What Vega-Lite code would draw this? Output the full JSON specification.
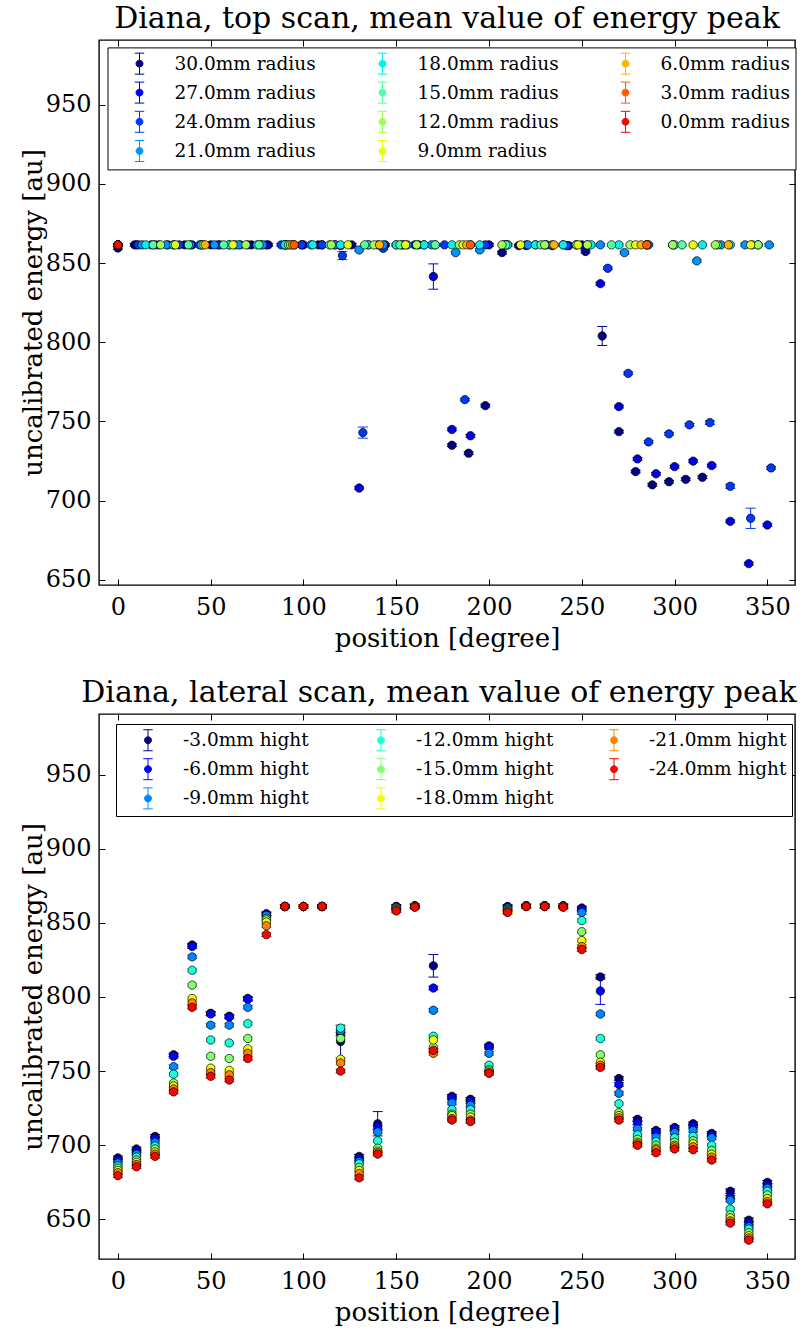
{
  "$schema": "https://vega.github.io/schema/vega-lite/v6.json",
  "background": "white",
  "padding": {"left": 19, "top": 2, "right": 6, "bottom": 4},
  "spacing": 24,
  "config": {
    "font": "DejaVu Serif",
    "view": {"stroke": "black", "strokeWidth": 1.4},
    "axis": {
      "labelFont": "DejaVu Serif", "titleFont": "DejaVu Serif",
      "labelColor": "black", "titleColor": "black",
      "labelFontSize": 24, "titleFontSize": 26, "titleFontWeight": "normal",
      "grid": false, "domain": false, "tickColor": "black", "tickSize": -6, "tickWidth": 1
    },
    "title": {"font": "DejaVu Serif", "fontSize": 30, "fontWeight": "normal", "color": "black", "offset": 6},
    "legend": {
      "title": null, "orient": "none", "columns": 3, "gridAlign": "all",
      "labelFont": "DejaVu Serif", "labelFontSize": 18.5, "labelColor": "black", "labelLimit": 300,
      "labelOffset": 24, "columnPadding": 39, "rowPadding": 3.2, "padding": 5, "symbolSize": 441,
      "symbolOffset": 16, "symbolStrokeWidth": 1,
      "symbolType": "M0,-1L0,-0.33M0,0.33L0,1M-0.45,-1L0.45,-1M-0.45,1L0.45,1M0.33,0A0.33,0.33,0,1,1,-0.33,0A0.33,0.33,0,1,1,0.33,0Z",
      "strokeColor": "black", "fillColor": "white"
    }
  },
  "datasets": {
    "topScan": [
      {"s":30,"pos":0,"E":859.5,"err":0.8},{"s":30,"pos":9,"E":861.5,"err":0.8},{"s":30,"pos":18,"E":861.5,"err":0.8},{"s":30,"pos":27,"E":861.5,"err":0.8},{"s":30,"pos":36,"E":861.5,"err":0.8},{"s":30,"pos":45,"E":861.5,"err":0.8},{"s":30,"pos":54,"E":861.5,"err":0.8},{"s":30,"pos":63,"E":861.5,"err":0.8},{"s":30,"pos":72,"E":861.5,"err":0.8},{"s":30,"pos":81,"E":861.5,"err":0.8},{"s":30,"pos":90,"E":861.5,"err":0.8},{"s":30,"pos":99,"E":861.5,"err":0.8},{"s":30,"pos":108,"E":861.5,"err":0.8},{"s":30,"pos":117,"E":861.5,"err":0.8},{"s":30,"pos":126,"E":861.5,"err":0.8},{"s":30,"pos":135,"E":861.5,"err":0.8},{"s":30,"pos":144,"E":861.5,"err":0.8},{"s":30,"pos":153,"E":861.5,"err":0.8},{"s":30,"pos":162,"E":861.5,"err":0.8},{"s":30,"pos":171,"E":861.5,"err":0.8},{"s":30,"pos":180,"E":735,"err":0.8},{"s":30,"pos":189,"E":730,"err":0.8},{"s":30,"pos":198,"E":760,"err":0.8},{"s":30,"pos":207,"E":856.6,"err":0.8},{"s":30,"pos":216,"E":861,"err":0.8},{"s":30,"pos":225,"E":861.5,"err":0.8},{"s":30,"pos":234,"E":861,"err":0.8},{"s":30,"pos":243,"E":861,"err":0.8},{"s":30,"pos":252,"E":857.3,"err":0.8},{"s":30,"pos":261,"E":804,"err":6},{"s":30,"pos":270,"E":743.6,"err":0.8},{"s":30,"pos":279,"E":718.4,"err":0.8},{"s":30,"pos":288,"E":710,"err":0.8},{"s":30,"pos":297,"E":712,"err":0.8},{"s":30,"pos":306,"E":713.5,"err":0.8},{"s":30,"pos":315,"E":714.8,"err":0.8},
      {"s":27,"pos":0,"E":861.5,"err":0.8},{"s":27,"pos":10,"E":861.5,"err":0.8},{"s":27,"pos":20,"E":861.5,"err":0.8},{"s":27,"pos":30,"E":861.5,"err":0.8},{"s":27,"pos":40,"E":861.5,"err":0.8},{"s":27,"pos":50,"E":861.5,"err":0.8},{"s":27,"pos":60,"E":861.5,"err":0.8},{"s":27,"pos":70,"E":861.5,"err":0.8},{"s":27,"pos":80,"E":861.5,"err":0.8},{"s":27,"pos":90,"E":861.5,"err":0.8},{"s":27,"pos":100,"E":861.5,"err":0.8},{"s":27,"pos":110,"E":861.5,"err":0.8},{"s":27,"pos":120,"E":861,"err":0.8},{"s":27,"pos":130,"E":708,"err":0.8},{"s":27,"pos":140,"E":861.5,"err":0.8},{"s":27,"pos":150,"E":861.5,"err":0.8},{"s":27,"pos":160,"E":861.5,"err":0.8},{"s":27,"pos":170,"E":841.5,"err":8},{"s":27,"pos":180,"E":745,"err":0.8},{"s":27,"pos":190,"E":741,"err":0.8},{"s":27,"pos":200,"E":861.5,"err":0.8},{"s":27,"pos":210,"E":861.5,"err":0.8},{"s":27,"pos":220,"E":861,"err":0.8},{"s":27,"pos":230,"E":861.5,"err":0.8},{"s":27,"pos":240,"E":861.5,"err":0.8},{"s":27,"pos":250,"E":861.5,"err":0.8},{"s":27,"pos":260,"E":837,"err":0.8},{"s":27,"pos":270,"E":759.4,"err":0.8},{"s":27,"pos":280,"E":726.4,"err":0.8},{"s":27,"pos":290,"E":717,"err":0.8},{"s":27,"pos":300,"E":721.5,"err":0.8},{"s":27,"pos":310,"E":725,"err":0.8},{"s":27,"pos":320,"E":722.2,"err":0.8},{"s":27,"pos":330,"E":687,"err":0.8},{"s":27,"pos":340,"E":660.3,"err":0.8},{"s":27,"pos":350,"E":684.7,"err":0.8},
      {"s":24,"pos":0,"E":861.5,"err":0.8},{"s":24,"pos":11,"E":861.5,"err":0.8},{"s":24,"pos":22,"E":861.5,"err":0.8},{"s":24,"pos":33,"E":861.5,"err":0.8},{"s":24,"pos":44,"E":861.5,"err":0.8},{"s":24,"pos":55,"E":861.5,"err":0.8},{"s":24,"pos":66,"E":861.5,"err":0.8},{"s":24,"pos":77,"E":861.5,"err":0.8},{"s":24,"pos":88,"E":861.5,"err":0.8},{"s":24,"pos":99,"E":861.5,"err":0.8},{"s":24,"pos":110,"E":861.5,"err":0.8},{"s":24,"pos":121,"E":854.7,"err":2.5},{"s":24,"pos":132,"E":743,"err":3.5},{"s":24,"pos":143,"E":859.3,"err":0.8},{"s":24,"pos":154,"E":861.5,"err":0.8},{"s":24,"pos":165,"E":861.5,"err":0.8},{"s":24,"pos":176,"E":861.5,"err":0.8},{"s":24,"pos":187,"E":763.8,"err":0.8},{"s":24,"pos":198,"E":861.5,"err":0.8},{"s":24,"pos":209,"E":861.5,"err":0.8},{"s":24,"pos":220,"E":861.5,"err":0.8},{"s":24,"pos":231,"E":861.5,"err":0.8},{"s":24,"pos":242,"E":861,"err":0.8},{"s":24,"pos":253,"E":861.5,"err":0.8},{"s":24,"pos":264,"E":846.7,"err":0.8},{"s":24,"pos":275,"E":780.4,"err":0.8},{"s":24,"pos":286,"E":737.1,"err":0.8},{"s":24,"pos":297,"E":742.2,"err":0.8},{"s":24,"pos":308,"E":747.9,"err":0.8},{"s":24,"pos":319,"E":749.3,"err":1.2},{"s":24,"pos":330,"E":709.1,"err":1.3},{"s":24,"pos":341,"E":688.9,"err":6.4},{"s":24,"pos":352,"E":720.7,"err":0.8},
      {"s":21,"pos":0,"E":861.5,"err":0.8},{"s":21,"pos":13,"E":861.5,"err":0.8},{"s":21,"pos":26,"E":861.5,"err":0.8},{"s":21,"pos":39,"E":861.5,"err":0.8},{"s":21,"pos":52,"E":861.5,"err":0.8},{"s":21,"pos":65,"E":861.5,"err":0.8},{"s":21,"pos":78,"E":861.5,"err":0.8},{"s":21,"pos":91,"E":861.5,"err":0.8},{"s":21,"pos":104,"E":861.5,"err":0.8},{"s":21,"pos":117,"E":861.5,"err":0.8},{"s":21,"pos":130,"E":858.3,"err":0.8},{"s":21,"pos":143,"E":861.5,"err":0.8},{"s":21,"pos":156,"E":861.5,"err":0.8},{"s":21,"pos":169,"E":861.5,"err":0.8},{"s":21,"pos":182,"E":856.6,"err":0.8},{"s":21,"pos":195,"E":858.3,"err":0.8},{"s":21,"pos":208,"E":861.5,"err":0.8},{"s":21,"pos":221,"E":861.5,"err":0.8},{"s":21,"pos":234,"E":861.5,"err":0.8},{"s":21,"pos":247,"E":861.5,"err":0.8},{"s":21,"pos":260,"E":861.5,"err":0.8},{"s":21,"pos":273,"E":856.6,"err":0.8},{"s":21,"pos":286,"E":861.5,"err":0.8},{"s":21,"pos":299,"E":861.5,"err":0.8},{"s":21,"pos":312,"E":851.4,"err":0.8},{"s":21,"pos":325,"E":861.5,"err":0.8},{"s":21,"pos":338,"E":861.5,"err":0.8},{"s":21,"pos":351,"E":861.5,"err":0.8},
      {"s":18,"pos":0,"E":861.5,"err":0.8},{"s":18,"pos":15,"E":861.5,"err":0.8},{"s":18,"pos":30,"E":861.5,"err":0.8},{"s":18,"pos":45,"E":861.5,"err":0.8},{"s":18,"pos":60,"E":861.5,"err":0.8},{"s":18,"pos":75,"E":861.5,"err":0.8},{"s":18,"pos":90,"E":861.5,"err":0.8},{"s":18,"pos":105,"E":861.5,"err":0.8},{"s":18,"pos":120,"E":861.5,"err":0.8},{"s":18,"pos":135,"E":861.5,"err":0.8},{"s":18,"pos":150,"E":861.5,"err":0.8},{"s":18,"pos":165,"E":861.5,"err":0.8},{"s":18,"pos":180,"E":861.5,"err":0.8},{"s":18,"pos":195,"E":861.5,"err":0.8},{"s":18,"pos":210,"E":861.5,"err":0.8},{"s":18,"pos":225,"E":861.5,"err":0.8},{"s":18,"pos":240,"E":861.5,"err":0.8},{"s":18,"pos":255,"E":861.5,"err":0.8},{"s":18,"pos":270,"E":861.5,"err":0.8},{"s":18,"pos":285,"E":861.5,"err":0.8},{"s":18,"pos":300,"E":861.5,"err":0.8},{"s":18,"pos":315,"E":861.5,"err":0.8},{"s":18,"pos":330,"E":861.5,"err":0.8},{"s":18,"pos":345,"E":861.5,"err":0.8},
      {"s":15,"pos":0,"E":861.5,"err":0.8},{"s":15,"pos":19,"E":861.5,"err":0.8},{"s":15,"pos":38,"E":861.5,"err":0.8},{"s":15,"pos":57,"E":861.5,"err":0.8},{"s":15,"pos":76,"E":861.5,"err":0.8},{"s":15,"pos":95,"E":861.5,"err":0.8},{"s":15,"pos":114,"E":861.5,"err":0.8},{"s":15,"pos":133,"E":861.5,"err":0.8},{"s":15,"pos":152,"E":861.5,"err":0.8},{"s":15,"pos":171,"E":861.5,"err":0.8},{"s":15,"pos":190,"E":861.5,"err":0.8},{"s":15,"pos":209,"E":861.5,"err":0.8},{"s":15,"pos":228,"E":861.5,"err":0.8},{"s":15,"pos":247,"E":861.5,"err":0.8},{"s":15,"pos":266,"E":861.5,"err":0.8},{"s":15,"pos":285,"E":861.5,"err":0.8},{"s":15,"pos":304,"E":861.5,"err":0.8},{"s":15,"pos":323,"E":861.5,"err":0.8},{"s":15,"pos":342,"E":861.5,"err":0.8},
      {"s":12,"pos":0,"E":861.5,"err":0.8},{"s":12,"pos":23,"E":861.5,"err":0.8},{"s":12,"pos":46,"E":861.5,"err":0.8},{"s":12,"pos":69,"E":861.5,"err":0.8},{"s":12,"pos":92,"E":861.5,"err":0.8},{"s":12,"pos":115,"E":861.5,"err":0.8},{"s":12,"pos":138,"E":861.5,"err":0.8},{"s":12,"pos":161,"E":861.5,"err":0.8},{"s":12,"pos":184,"E":861.5,"err":0.8},{"s":12,"pos":207,"E":861.5,"err":0.8},{"s":12,"pos":230,"E":861.5,"err":0.8},{"s":12,"pos":253,"E":861.5,"err":0.8},{"s":12,"pos":276,"E":861.5,"err":0.8},{"s":12,"pos":299,"E":861.5,"err":0.8},{"s":12,"pos":322,"E":861.5,"err":0.8},{"s":12,"pos":345,"E":861.5,"err":0.8},
      {"s":9,"pos":0,"E":861.5,"err":0.8},{"s":9,"pos":31,"E":861.5,"err":0.8},{"s":9,"pos":62,"E":861.5,"err":0.8},{"s":9,"pos":93,"E":861.5,"err":0.8},{"s":9,"pos":124,"E":861.5,"err":0.8},{"s":9,"pos":155,"E":861.5,"err":0.8},{"s":9,"pos":186,"E":861.5,"err":0.8},{"s":9,"pos":217,"E":861.5,"err":0.8},{"s":9,"pos":248,"E":861.5,"err":0.8},{"s":9,"pos":279,"E":861.5,"err":0.8},{"s":9,"pos":310,"E":861.5,"err":0.8},{"s":9,"pos":341,"E":861.5,"err":0.8},
      {"s":6,"pos":0,"E":861.5,"err":0.8},{"s":6,"pos":47,"E":861.5,"err":0.8},{"s":6,"pos":94,"E":861.5,"err":0.8},{"s":6,"pos":141,"E":861.5,"err":0.8},{"s":6,"pos":188,"E":861.5,"err":0.8},{"s":6,"pos":235,"E":861.5,"err":0.8},{"s":6,"pos":282,"E":861.5,"err":0.8},{"s":6,"pos":329,"E":861.5,"err":0.8},
      {"s":3,"pos":0,"E":861.5,"err":0.8},{"s":3,"pos":95,"E":861.5,"err":0.8},{"s":3,"pos":190,"E":861.5,"err":0.8},{"s":3,"pos":285,"E":861.5,"err":0.8},
      {"s":0,"pos":0,"E":861.5,"err":0.8}
    ],
    "lateralScan": [
      {"s":-3,"pos":0,"E":691.5,"err":1.2},{"s":-3,"pos":10,"E":697.5,"err":1.2},{"s":-3,"pos":20,"E":706,"err":1.2},{"s":-3,"pos":30,"E":761,"err":1.2},{"s":-3,"pos":40,"E":835,"err":1.2},{"s":-3,"pos":50,"E":789,"err":1.2},{"s":-3,"pos":60,"E":787,"err":1.2},{"s":-3,"pos":70,"E":799,"err":1.2},{"s":-3,"pos":80,"E":856,"err":1.2},{"s":-3,"pos":90,"E":861,"err":1.2},{"s":-3,"pos":100,"E":861,"err":1.2},{"s":-3,"pos":110,"E":861,"err":1.2},{"s":-3,"pos":120,"E":770,"err":11},{"s":-3,"pos":130,"E":692.5,"err":1.2},{"s":-3,"pos":140,"E":714.5,"err":8.2},{"s":-3,"pos":150,"E":861,"err":1.2},{"s":-3,"pos":160,"E":861.5,"err":1.2},{"s":-3,"pos":170,"E":821,"err":7.6},{"s":-3,"pos":180,"E":733,"err":1.2},{"s":-3,"pos":190,"E":731,"err":1.2},{"s":-3,"pos":200,"E":767,"err":1.2},{"s":-3,"pos":210,"E":861,"err":1.2},{"s":-3,"pos":220,"E":861.5,"err":1.2},{"s":-3,"pos":230,"E":861.5,"err":1.2},{"s":-3,"pos":240,"E":861.5,"err":1.2},{"s":-3,"pos":250,"E":860,"err":1.2},{"s":-3,"pos":260,"E":813.5,"err":1.5},{"s":-3,"pos":270,"E":745,"err":1.2},{"s":-3,"pos":280,"E":717.5,"err":1.2},{"s":-3,"pos":290,"E":710,"err":1.2},{"s":-3,"pos":300,"E":712,"err":1.2},{"s":-3,"pos":310,"E":714.5,"err":1.2},{"s":-3,"pos":320,"E":708,"err":1.2},{"s":-3,"pos":330,"E":669,"err":1.5},{"s":-3,"pos":340,"E":649.5,"err":1.5},{"s":-3,"pos":350,"E":675,"err":1.2},
      {"s":-6,"pos":0,"E":690,"err":1.2},{"s":-6,"pos":10,"E":696,"err":1.2},{"s":-6,"pos":20,"E":704.5,"err":1.2},{"s":-6,"pos":30,"E":760,"err":1.2},{"s":-6,"pos":40,"E":834,"err":1.2},{"s":-6,"pos":50,"E":788.5,"err":1.2},{"s":-6,"pos":60,"E":786.5,"err":1.2},{"s":-6,"pos":70,"E":798.5,"err":1.2},{"s":-6,"pos":80,"E":856,"err":1.2},{"s":-6,"pos":90,"E":861,"err":1.2},{"s":-6,"pos":100,"E":861,"err":1.2},{"s":-6,"pos":110,"E":861,"err":1.2},{"s":-6,"pos":120,"E":775,"err":1.2},{"s":-6,"pos":130,"E":691,"err":1.2},{"s":-6,"pos":140,"E":712,"err":1.2},{"s":-6,"pos":150,"E":861,"err":1.2},{"s":-6,"pos":160,"E":861.5,"err":1.2},{"s":-6,"pos":170,"E":806,"err":1.2},{"s":-6,"pos":180,"E":732,"err":1.2},{"s":-6,"pos":190,"E":729.5,"err":1.2},{"s":-6,"pos":200,"E":766,"err":1.2},{"s":-6,"pos":210,"E":860.5,"err":1.2},{"s":-6,"pos":220,"E":861.5,"err":1.2},{"s":-6,"pos":230,"E":861.5,"err":1.2},{"s":-6,"pos":240,"E":861.5,"err":1.2},{"s":-6,"pos":250,"E":859,"err":1.2},{"s":-6,"pos":260,"E":804,"err":9},{"s":-6,"pos":270,"E":741,"err":1.2},{"s":-6,"pos":280,"E":715,"err":1.2},{"s":-6,"pos":290,"E":709,"err":1.2},{"s":-6,"pos":300,"E":711,"err":1.2},{"s":-6,"pos":310,"E":713,"err":1.2},{"s":-6,"pos":320,"E":707,"err":1.2},{"s":-6,"pos":330,"E":665,"err":1.2},{"s":-6,"pos":340,"E":647.5,"err":1.2},{"s":-6,"pos":350,"E":673,"err":1.2},
      {"s":-9,"pos":0,"E":688,"err":1.2},{"s":-9,"pos":10,"E":694,"err":1.2},{"s":-9,"pos":20,"E":702,"err":1.2},{"s":-9,"pos":30,"E":753,"err":1.2},{"s":-9,"pos":40,"E":827,"err":1.2},{"s":-9,"pos":50,"E":781,"err":1.2},{"s":-9,"pos":60,"E":781,"err":1.2},{"s":-9,"pos":70,"E":793,"err":1.2},{"s":-9,"pos":80,"E":855,"err":1.2},{"s":-9,"pos":90,"E":861,"err":1.2},{"s":-9,"pos":100,"E":861,"err":1.2},{"s":-9,"pos":110,"E":861,"err":1.2},{"s":-9,"pos":120,"E":777,"err":1.2},{"s":-9,"pos":130,"E":689,"err":1.2},{"s":-9,"pos":140,"E":709,"err":1.2},{"s":-9,"pos":150,"E":860.5,"err":1.2},{"s":-9,"pos":160,"E":861,"err":1.2},{"s":-9,"pos":170,"E":791,"err":1.2},{"s":-9,"pos":180,"E":728.5,"err":1.2},{"s":-9,"pos":190,"E":727,"err":1.2},{"s":-9,"pos":200,"E":762,"err":1.2},{"s":-9,"pos":210,"E":860,"err":1.2},{"s":-9,"pos":220,"E":861.5,"err":1.2},{"s":-9,"pos":230,"E":861.5,"err":1.2},{"s":-9,"pos":240,"E":861,"err":1.2},{"s":-9,"pos":250,"E":857,"err":1.2},{"s":-9,"pos":260,"E":788.5,"err":1.2},{"s":-9,"pos":270,"E":735,"err":1.2},{"s":-9,"pos":280,"E":711,"err":1.2},{"s":-9,"pos":290,"E":705.5,"err":1.2},{"s":-9,"pos":300,"E":708.5,"err":1.2},{"s":-9,"pos":310,"E":710,"err":1.2},{"s":-9,"pos":320,"E":705,"err":1.2},{"s":-9,"pos":330,"E":663,"err":1.2},{"s":-9,"pos":340,"E":645,"err":1.2},{"s":-9,"pos":350,"E":671,"err":1.2},
      {"s":-12,"pos":0,"E":686,"err":1.2},{"s":-12,"pos":10,"E":692,"err":1.2},{"s":-12,"pos":20,"E":699.5,"err":1.2},{"s":-12,"pos":30,"E":748,"err":1.2},{"s":-12,"pos":40,"E":818,"err":1.2},{"s":-12,"pos":50,"E":771,"err":1.2},{"s":-12,"pos":60,"E":769,"err":1.2},{"s":-12,"pos":70,"E":782,"err":1.2},{"s":-12,"pos":80,"E":853,"err":1.2},{"s":-12,"pos":90,"E":861,"err":1.2},{"s":-12,"pos":100,"E":861,"err":1.2},{"s":-12,"pos":110,"E":861,"err":1.2},{"s":-12,"pos":120,"E":779,"err":1.2},{"s":-12,"pos":130,"E":687.5,"err":1.2},{"s":-12,"pos":140,"E":703,"err":1.2},{"s":-12,"pos":150,"E":860,"err":1.2},{"s":-12,"pos":160,"E":861,"err":1.2},{"s":-12,"pos":170,"E":773.5,"err":1.2},{"s":-12,"pos":180,"E":724,"err":1.2},{"s":-12,"pos":190,"E":724,"err":1.2},{"s":-12,"pos":200,"E":754,"err":1.2},{"s":-12,"pos":210,"E":859,"err":1.2},{"s":-12,"pos":220,"E":861.5,"err":1.2},{"s":-12,"pos":230,"E":861.5,"err":1.2},{"s":-12,"pos":240,"E":861,"err":1.2},{"s":-12,"pos":250,"E":851.5,"err":1.2},{"s":-12,"pos":260,"E":772,"err":1.2},{"s":-12,"pos":270,"E":728,"err":1.2},{"s":-12,"pos":280,"E":707,"err":1.2},{"s":-12,"pos":290,"E":702.5,"err":1.2},{"s":-12,"pos":300,"E":705,"err":1.2},{"s":-12,"pos":310,"E":706,"err":1.2},{"s":-12,"pos":320,"E":700,"err":1.2},{"s":-12,"pos":330,"E":657,"err":1.2},{"s":-12,"pos":340,"E":643.5,"err":1.2},{"s":-12,"pos":350,"E":669,"err":1.2},
      {"s":-15,"pos":0,"E":684.5,"err":1.2},{"s":-15,"pos":10,"E":690,"err":1.2},{"s":-15,"pos":20,"E":697.5,"err":1.2},{"s":-15,"pos":30,"E":742,"err":1.2},{"s":-15,"pos":40,"E":808,"err":1.2},{"s":-15,"pos":50,"E":760,"err":1.2},{"s":-15,"pos":60,"E":758.5,"err":1.2},{"s":-15,"pos":70,"E":772,"err":1.2},{"s":-15,"pos":80,"E":852,"err":1.2},{"s":-15,"pos":90,"E":861,"err":1.2},{"s":-15,"pos":100,"E":861,"err":1.2},{"s":-15,"pos":110,"E":861,"err":1.2},{"s":-15,"pos":120,"E":772,"err":1.2},{"s":-15,"pos":130,"E":685,"err":1.2},{"s":-15,"pos":140,"E":698,"err":1.2},{"s":-15,"pos":150,"E":859.5,"err":1.2},{"s":-15,"pos":160,"E":861,"err":1.2},{"s":-15,"pos":170,"E":766,"err":1.2},{"s":-15,"pos":180,"E":721,"err":1.2},{"s":-15,"pos":190,"E":721,"err":1.2},{"s":-15,"pos":200,"E":751,"err":1.2},{"s":-15,"pos":210,"E":858.5,"err":1.2},{"s":-15,"pos":220,"E":861.5,"err":1.2},{"s":-15,"pos":230,"E":861,"err":1.2},{"s":-15,"pos":240,"E":861,"err":1.2},{"s":-15,"pos":250,"E":844,"err":1.2},{"s":-15,"pos":260,"E":761,"err":1.2},{"s":-15,"pos":270,"E":722,"err":1.2},{"s":-15,"pos":280,"E":704,"err":1.2},{"s":-15,"pos":290,"E":700,"err":1.2},{"s":-15,"pos":300,"E":702,"err":1.2},{"s":-15,"pos":310,"E":703,"err":1.2},{"s":-15,"pos":320,"E":696.5,"err":1.2},{"s":-15,"pos":330,"E":653,"err":1.2},{"s":-15,"pos":340,"E":641,"err":1.2},{"s":-15,"pos":350,"E":666.5,"err":1.2},
      {"s":-18,"pos":0,"E":683,"err":1.2},{"s":-18,"pos":10,"E":688.5,"err":1.2},{"s":-18,"pos":20,"E":695.5,"err":1.2},{"s":-18,"pos":30,"E":740,"err":1.2},{"s":-18,"pos":40,"E":799,"err":1.2},{"s":-18,"pos":50,"E":752,"err":1.2},{"s":-18,"pos":60,"E":750.5,"err":1.2},{"s":-18,"pos":70,"E":765,"err":1.2},{"s":-18,"pos":80,"E":850.5,"err":1.2},{"s":-18,"pos":90,"E":861,"err":1.2},{"s":-18,"pos":100,"E":861,"err":1.2},{"s":-18,"pos":110,"E":861,"err":1.2},{"s":-18,"pos":120,"E":758,"err":1.2},{"s":-18,"pos":130,"E":683,"err":1.2},{"s":-18,"pos":140,"E":696,"err":1.2},{"s":-18,"pos":150,"E":859,"err":1.2},{"s":-18,"pos":160,"E":861,"err":1.2},{"s":-18,"pos":170,"E":771,"err":1.2},{"s":-18,"pos":180,"E":720,"err":1.2},{"s":-18,"pos":190,"E":719,"err":1.2},{"s":-18,"pos":200,"E":750,"err":1.2},{"s":-18,"pos":210,"E":858,"err":1.2},{"s":-18,"pos":220,"E":861,"err":1.2},{"s":-18,"pos":230,"E":861,"err":1.2},{"s":-18,"pos":240,"E":861,"err":1.2},{"s":-18,"pos":250,"E":838,"err":1.2},{"s":-18,"pos":260,"E":756,"err":1.2},{"s":-18,"pos":270,"E":720,"err":1.2},{"s":-18,"pos":280,"E":702,"err":1.2},{"s":-18,"pos":290,"E":698,"err":1.2},{"s":-18,"pos":300,"E":700,"err":1.2},{"s":-18,"pos":310,"E":701,"err":1.2},{"s":-18,"pos":320,"E":694,"err":1.2},{"s":-18,"pos":330,"E":651,"err":1.2},{"s":-18,"pos":340,"E":639,"err":1.2},{"s":-18,"pos":350,"E":664,"err":1.2},
      {"s":-21,"pos":0,"E":681.5,"err":1.2},{"s":-21,"pos":10,"E":687,"err":1.2},{"s":-21,"pos":20,"E":694,"err":1.2},{"s":-21,"pos":30,"E":738,"err":1.2},{"s":-21,"pos":40,"E":796,"err":1.2},{"s":-21,"pos":50,"E":749,"err":1.2},{"s":-21,"pos":60,"E":747.5,"err":1.2},{"s":-21,"pos":70,"E":762,"err":1.2},{"s":-21,"pos":80,"E":848,"err":1.2},{"s":-21,"pos":90,"E":861,"err":1.2},{"s":-21,"pos":100,"E":861,"err":1.2},{"s":-21,"pos":110,"E":861,"err":1.2},{"s":-21,"pos":120,"E":755.5,"err":1.2},{"s":-21,"pos":130,"E":681,"err":1.2},{"s":-21,"pos":140,"E":695,"err":1.2},{"s":-21,"pos":150,"E":858.5,"err":1.2},{"s":-21,"pos":160,"E":861,"err":1.2},{"s":-21,"pos":170,"E":762,"err":1.2},{"s":-21,"pos":180,"E":718,"err":1.2},{"s":-21,"pos":190,"E":717,"err":1.2},{"s":-21,"pos":200,"E":749,"err":1.2},{"s":-21,"pos":210,"E":857.5,"err":1.2},{"s":-21,"pos":220,"E":861,"err":1.2},{"s":-21,"pos":230,"E":861,"err":1.2},{"s":-21,"pos":240,"E":861,"err":1.2},{"s":-21,"pos":250,"E":834,"err":1.2},{"s":-21,"pos":260,"E":754,"err":1.2},{"s":-21,"pos":270,"E":718.5,"err":1.2},{"s":-21,"pos":280,"E":701,"err":1.2},{"s":-21,"pos":290,"E":697,"err":1.2},{"s":-21,"pos":300,"E":699,"err":1.2},{"s":-21,"pos":310,"E":699,"err":1.2},{"s":-21,"pos":320,"E":692,"err":1.2},{"s":-21,"pos":330,"E":649,"err":1.2},{"s":-21,"pos":340,"E":637.5,"err":1.2},{"s":-21,"pos":350,"E":662,"err":1.2},
      {"s":-24,"pos":0,"E":679.5,"err":1.2},{"s":-24,"pos":10,"E":685.5,"err":1.2},{"s":-24,"pos":20,"E":692.5,"err":1.2},{"s":-24,"pos":30,"E":736,"err":1.2},{"s":-24,"pos":40,"E":793,"err":1.2},{"s":-24,"pos":50,"E":746.5,"err":1.2},{"s":-24,"pos":60,"E":744,"err":1.2},{"s":-24,"pos":70,"E":758.5,"err":1.2},{"s":-24,"pos":80,"E":842,"err":1.2},{"s":-24,"pos":90,"E":861,"err":1.2},{"s":-24,"pos":100,"E":861,"err":1.2},{"s":-24,"pos":110,"E":861,"err":1.2},{"s":-24,"pos":120,"E":750,"err":1.2},{"s":-24,"pos":130,"E":678,"err":1.2},{"s":-24,"pos":140,"E":694,"err":1.2},{"s":-24,"pos":150,"E":858,"err":1.2},{"s":-24,"pos":160,"E":860.5,"err":1.2},{"s":-24,"pos":170,"E":764,"err":1.2},{"s":-24,"pos":180,"E":717,"err":1.2},{"s":-24,"pos":190,"E":716,"err":1.2},{"s":-24,"pos":200,"E":748.5,"err":1.2},{"s":-24,"pos":210,"E":857,"err":1.2},{"s":-24,"pos":220,"E":861,"err":1.2},{"s":-24,"pos":230,"E":861,"err":1.2},{"s":-24,"pos":240,"E":860.5,"err":1.2},{"s":-24,"pos":250,"E":832,"err":1.2},{"s":-24,"pos":260,"E":752.5,"err":1.2},{"s":-24,"pos":270,"E":717,"err":1.2},{"s":-24,"pos":280,"E":700,"err":1.2},{"s":-24,"pos":290,"E":695,"err":1.2},{"s":-24,"pos":300,"E":697.5,"err":1.2},{"s":-24,"pos":310,"E":697,"err":1.2},{"s":-24,"pos":320,"E":690,"err":1.2},{"s":-24,"pos":330,"E":647.5,"err":1.2},{"s":-24,"pos":340,"E":636,"err":1.2},{"s":-24,"pos":350,"E":660.5,"err":1.2}
    ]
  },
  "vconcat": [
    {
      "title": "Diana, top scan, mean value of energy peak",
      "width": 696,
      "height": 545,
      "data": {"name": "topScan"},
      "layer": [
        {
          "mark": {"type": "errorbar", "ticks": {"size": 10, "thickness": 1}, "thickness": 1, "opacity": 1},
          "encoding": {
            "x": {"field": "pos", "type": "quantitative", "scale": {"domain": [-10.2, 364.9], "nice": false, "zero": false},
                  "axis": {"values": [0, 50, 100, 150, 200, 250, 300, 350], "title": "position [degree]", "labelPadding": 16, "titlePadding": 6}},
            "y": {"field": "E", "type": "quantitative", "scale": {"domain": [646.8, 990.8], "nice": false, "zero": false},
                  "axis": {"values": [650, 700, 750, 800, 850, 900, 950], "title": "uncalibrated energy [au]", "labelPadding": 14, "titlePadding": -1}},
            "yError": {"field": "err"},
            "color": {"field": "s", "type": "nominal",
                      "scale": {"domain": [30, 27, 24, 21, 18, 15, 12, 9, 6, 3, 0],
                                "range": ["#000080", "#0000e8", "#0038ff", "#0094ff", "#08f0ee", "#52ffa4", "#9cff5a", "#e6ff11", "#ffb400", "#ff5e00", "#f40900"]},
                      "legend": {"legendX": 8.5, "legendY": 7.4, "labelExpr": "format(datum.value, '.1f') + 'mm radius'"}}
          }
        },
        {
          "mark": {"type": "point", "filled": true, "size": 70, "stroke": "black", "strokeWidth": 0.7, "opacity": 1},
          "encoding": {
            "x": {"field": "pos", "type": "quantitative", "scale": {"domain": [-10.2, 364.9], "nice": false, "zero": false},
                  "axis": {"orient": "top", "values": [0, 50, 100, 150, 200, 250, 300, 350], "labels": false, "title": null}},
            "y": {"field": "E", "type": "quantitative", "scale": {"domain": [646.8, 990.8], "nice": false, "zero": false},
                  "axis": {"orient": "right", "values": [650, 700, 750, 800, 850, 900, 950], "labels": false, "title": null}},
            "fill": {"field": "s", "type": "nominal",
                     "scale": {"domain": [30, 27, 24, 21, 18, 15, 12, 9, 6, 3, 0],
                               "range": ["#000080", "#0000e8", "#0038ff", "#0094ff", "#08f0ee", "#52ffa4", "#9cff5a", "#e6ff11", "#ffb400", "#ff5e00", "#f40900"]},
                     "legend": {"legendX": 8.5, "legendY": 7.4, "labelExpr": "format(datum.value, '.1f') + 'mm radius'"}}
          }
        }
      ],
      "resolve": {"axis": {"x": "independent", "y": "independent"}}
    },
    {
      "title": {"text": "Diana, lateral scan, mean value of energy peak", "dx": -8},
      "width": 696,
      "height": 545,
      "data": {"name": "lateralScan"},
      "layer": [
        {
          "mark": {"type": "errorbar", "ticks": {"size": 10, "thickness": 1}, "thickness": 1, "opacity": 1},
          "encoding": {
            "x": {"field": "pos", "type": "quantitative", "scale": {"domain": [-10.2, 364.9], "nice": false, "zero": false},
                  "axis": {"values": [0, 50, 100, 150, 200, 250, 300, 350], "title": "position [degree]", "labelPadding": 16, "titlePadding": 6}},
            "y": {"field": "E", "type": "quantitative", "scale": {"domain": [623.3, 990.8], "nice": false, "zero": false},
                  "axis": {"values": [650, 700, 750, 800, 850, 900, 950], "title": "uncalibrated energy [au]", "labelPadding": 14, "titlePadding": -1}},
            "yError": {"field": "err"},
            "color": {"field": "s", "type": "nominal",
                      "scale": {"domain": [-3, -6, -9, -12, -15, -18, -21, -24],
                                "range": ["#000080", "#0004ff", "#0087ff", "#1effd9", "#87ff70", "#f1fc06", "#ff8300", "#f40900"]},
                      "legend": {"legendX": 17, "legendY": 10, "columnPadding": 33, "labelExpr": "'-' + format(abs(datum.value), '.1f') + 'mm hight'"}}
          }
        },
        {
          "mark": {"type": "point", "filled": true, "size": 70, "stroke": "black", "strokeWidth": 0.7, "opacity": 1},
          "encoding": {
            "x": {"field": "pos", "type": "quantitative", "scale": {"domain": [-10.2, 364.9], "nice": false, "zero": false},
                  "axis": {"orient": "top", "values": [0, 50, 100, 150, 200, 250, 300, 350], "labels": false, "title": null}},
            "y": {"field": "E", "type": "quantitative", "scale": {"domain": [623.3, 990.8], "nice": false, "zero": false},
                  "axis": {"orient": "right", "values": [650, 700, 750, 800, 850, 900, 950], "labels": false, "title": null}},
            "fill": {"field": "s", "type": "nominal",
                     "scale": {"domain": [-3, -6, -9, -12, -15, -18, -21, -24],
                               "range": ["#000080", "#0004ff", "#0087ff", "#1effd9", "#87ff70", "#f1fc06", "#ff8300", "#f40900"]},
                     "legend": {"legendX": 17, "legendY": 10, "columnPadding": 33, "labelExpr": "'-' + format(abs(datum.value), '.1f') + 'mm hight'"}}
          }
        }
      ],
      "resolve": {"axis": {"x": "independent", "y": "independent"}}
    }
  ],
  "resolve": {
    "scale": {"color": "independent", "fill": "independent", "x": "independent", "y": "independent"},
    "legend": {"color": "independent", "fill": "independent"}
  }
}
